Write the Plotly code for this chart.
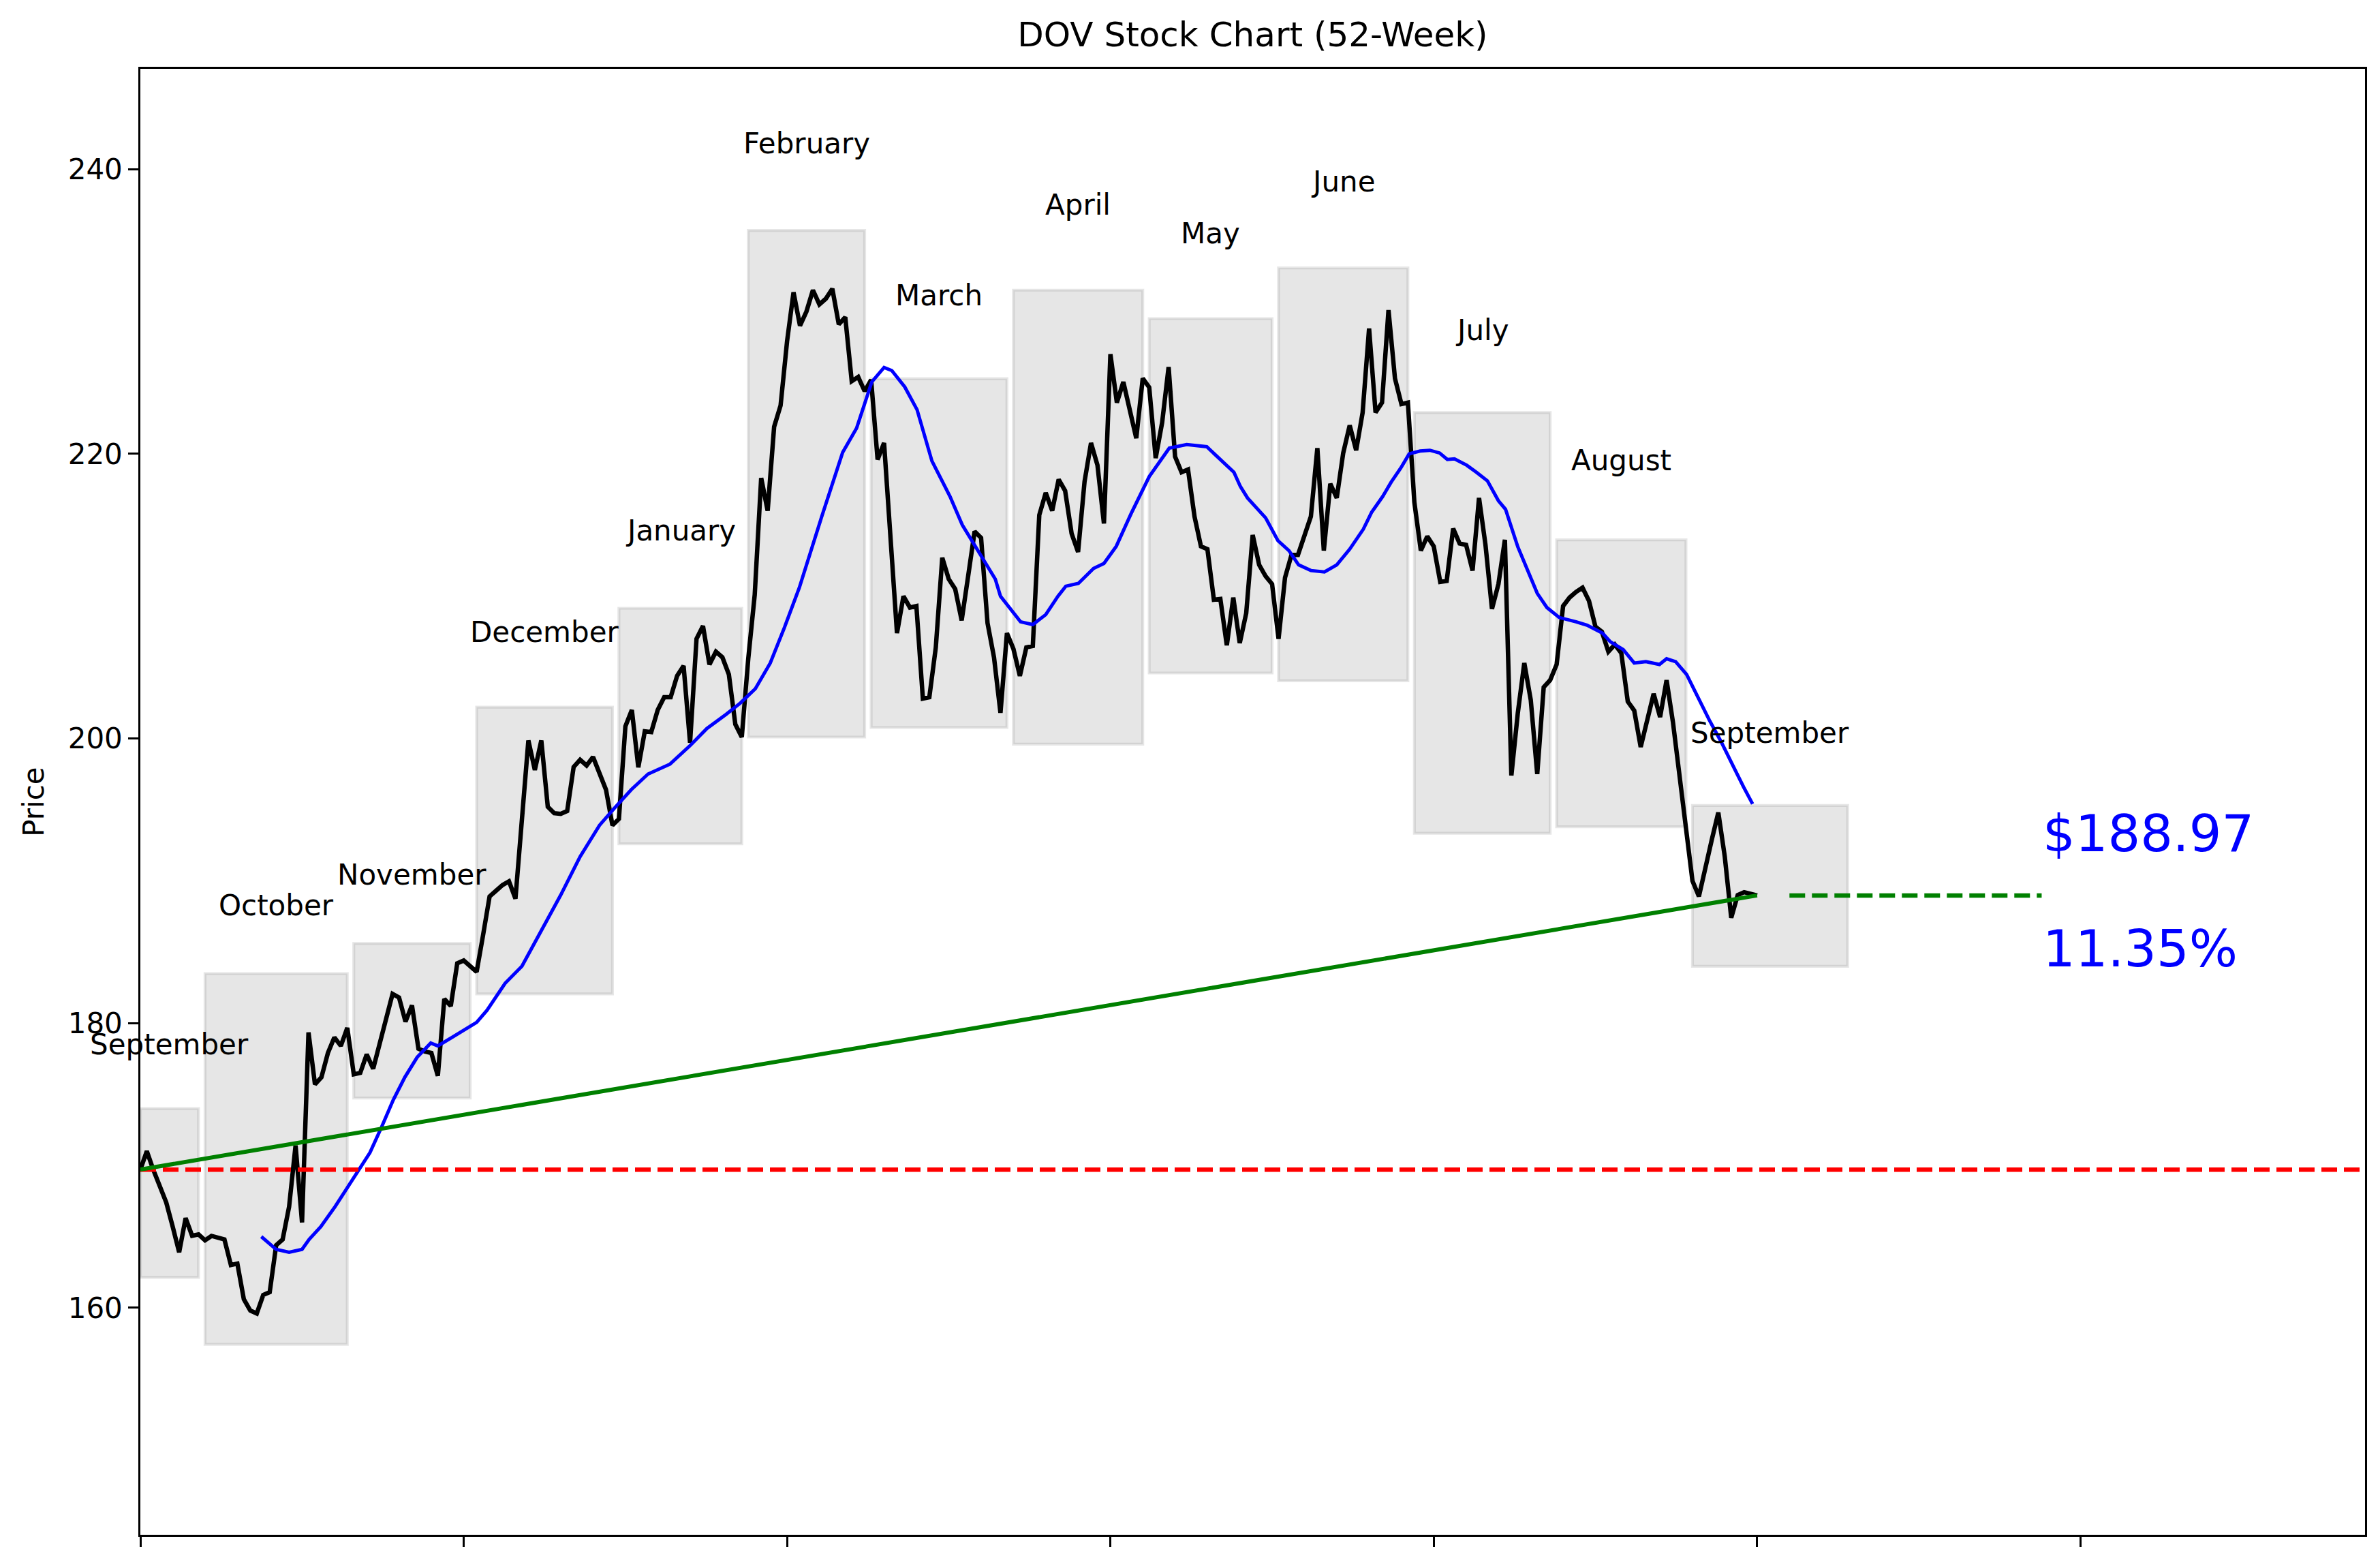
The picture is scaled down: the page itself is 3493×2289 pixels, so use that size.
import plotly.graph_objects as go

# ---- data ----
close = [
    169.71, 171.0, 169.7, 168.6, 167.4, 165.7, 163.9, 166.3, 165.06, 165.15,
    164.74, 165.05, 164.9, 164.8, 163.0, 163.1, 160.6, 159.8, 159.6, 160.9,
    161.1, 164.4, 164.8, 167.1, 171.4, 166.0, 179.35, 175.7, 176.2, 177.9,
    179.0, 178.4, 179.67, 176.4, 176.5, 177.8, 176.8, 178.6, 180.3, 182.05,
    181.8, 180.1, 181.25, 178.2, 178.0, 177.9, 176.3, 181.7, 181.2, 184.2,
    184.4, 184.0, 183.6, 186.2, 188.9, 189.3, 189.7, 189.96, 188.74, 194.3,
    199.86, 197.78, 199.86, 195.2, 194.75, 194.7, 194.9, 198.0, 198.5, 198.1,
    198.7, 197.55, 196.4, 193.9, 194.35, 200.85, 202.0, 197.97, 200.5, 200.45,
    202.0, 202.9, 202.9, 204.4, 205.1, 199.7, 207.0, 207.9, 205.2, 206.1,
    205.7, 204.5, 201.0, 200.1, 205.6, 210.1, 218.3, 216.0, 221.9, 223.4,
    227.9, 231.35, 229.0, 230.0, 231.5, 230.5, 230.9, 231.6, 229.1, 229.6,
    225.1, 225.4, 224.4, 225.2, 219.6, 220.76, 214.1, 207.4, 210.0, 209.2,
    209.3, 202.8, 202.9, 206.4, 212.7, 211.2, 210.5, 208.3, 211.4, 214.55,
    214.1, 208.1, 205.7, 201.8, 207.4, 206.3, 204.4, 206.4, 206.5, 215.7,
    217.26, 216.0, 218.2, 217.4, 214.4, 213.1, 218.05, 220.76, 219.2, 215.1,
    227.0, 223.6, 225.05, 223.1, 221.1, 225.3, 224.67, 219.7, 222.2, 226.1,
    219.8, 218.7, 218.9, 215.6, 213.5, 213.3, 209.75, 209.8, 206.55, 209.9,
    206.7, 208.8, 214.3, 212.2, 211.4, 210.85, 207.0, 211.3, 212.9, 212.9,
    214.3, 215.6, 220.4, 213.2, 217.9, 216.9, 220.06, 222.0, 220.25, 222.9,
    228.8, 222.9, 223.6, 230.1, 225.3, 223.5, 223.6, 216.6, 213.2, 214.2,
    213.5, 211.0, 211.07, 214.75, 213.7, 213.6, 211.8, 216.9, 213.6, 209.1,
    210.85, 213.96, 197.4, 201.8, 205.3, 202.7, 197.5, 203.6, 204.1, 205.2,
    209.3, 209.9, 210.3, 210.6, 209.67, 207.85, 207.5, 206.1, 206.6, 206.0,
    202.6, 201.96, 199.4, 201.3, 203.14, 201.5, 204.1, 201.1, 197.25, 193.4,
    190.0, 188.9, 191.05, 192.9, 194.8, 191.7, 187.4, 189.0, 189.2, 189.06,
    188.97,
]
day_index = list(range(len(close)))

ma_x = [18.7, 21.0, 23.0, 25.0, 26.1, 27.9, 30.1, 31.9, 33.7, 35.5, 37.3, 39.1,
        40.9, 42.8, 44.9, 46.0, 48.2, 50.0, 52.0, 53.6, 56.4, 59.0, 62.0, 65.0,
        68.0, 71.0, 73.3, 75.9, 78.5, 81.9, 85.0, 87.6, 90.6, 92.8, 95.1, 97.4,
        99.6, 101.9, 105.3, 108.6, 110.75, 113.1, 115.0, 116.2, 118.2, 120.1,
        122.4, 125.2, 127.1, 129.5, 132.2, 133.0, 136.1, 138.0, 140.0, 141.9,
        143.1, 145.05, 147.4, 149.0, 150.9, 153.2, 156.0, 159.1, 161.8, 164.9,
        167.8, 169.1, 170.1, 171.2, 174.0, 175.9, 177.6, 179.1, 181.0, 183.1,
        185.0, 187.0, 189.1, 190.4, 192.1, 193.4, 194.9, 196.2, 197.9, 199.4,
        200.9, 202.1, 203.2, 205.1, 206.6, 208.3, 210.0, 211.1, 213.0, 214.9,
        216.0, 217.5, 219.4, 222.0, 223.7, 226.1, 227.3, 229.3, 231.0, 232.8,
        234.9, 236.0, 237.4, 239.1, 240.9, 242.6, 244.4, 246.2, 247.9, 249.3]
ma_y = [165.0, 164.1, 163.9, 164.1, 164.8, 165.7, 167.1, 168.4, 169.7, 170.9,
        172.7, 174.6, 176.2, 177.6, 178.6, 178.4, 179.0, 179.5, 180.05, 180.9,
        182.8, 184.0, 186.5, 189.0, 191.7, 193.9, 195.1, 196.4, 197.5, 198.2,
        199.5, 200.7, 201.7, 202.5, 203.5, 205.3, 207.8, 210.6, 215.5, 220.1,
        221.8, 225.05, 226.07, 225.85, 224.7, 223.1, 219.5, 217.0, 215.0, 213.2,
        211.2, 210.0, 208.2, 208.0, 208.7, 210.0, 210.7, 210.9, 211.95, 212.3,
        213.5, 215.8, 218.4, 220.4, 220.65, 220.5, 219.2, 218.7, 217.7, 216.9,
        215.5, 213.9, 213.2, 212.2, 211.8, 211.7, 212.2, 213.3, 214.7, 215.9,
        217.0, 218.0, 219.0, 220.0, 220.2, 220.25, 220.06, 219.6, 219.65, 219.2,
        218.7, 218.1, 216.7, 216.1, 213.46, 211.4, 210.2, 209.2, 208.5, 208.2,
        207.96, 207.4, 206.8, 206.25, 205.3, 205.4, 205.2, 205.6, 205.4, 204.5,
        202.8, 201.3, 199.8, 198.1, 196.6, 195.4]

months = ["September", "October", "November", "December", "January", "February",
          "March", "April", "May", "June", "July", "August", "September"]
month_start = [0, 10, 33, 52, 74, 94, 113, 135, 156, 176, 197, 219, 240]
month_end = [9, 32, 51, 73, 93, 112, 134, 155, 175, 196, 218, 239, 264]
month_low = [162.13, 157.43, 174.74, 182.05, 192.6, 200.1, 200.77, 199.6,
             204.6, 204.06, 193.34, 193.8, 183.99]
month_high = [174.0, 183.48, 185.6, 202.2, 209.15, 235.7, 225.28, 231.5,
              229.5, 233.06, 222.9, 213.96, 195.29]

y_ticks = [160, 180, 200, 220, 240]
x_ticks = [0, 50, 100, 150, 200, 250, 300]

# ---- derived values ----
start_price = close[0]
last_price = close[-1]
last_i = day_index[-1]
pct = (last_price / start_price - 1) * 100

FONT = "DejaVu Sans"
W, H = 3493, 2289
X_RANGE = [0, 344.0]
Y_RANGE = [144.05, 247.05]

fig = go.Figure()

# month boxes
for m, x0, x1, lo, hi in zip(months, month_start, month_end, month_low, month_high):
    fig.add_shape(type="rect", xref="x", yref="y", x0=x0, x1=x1, y0=lo, y1=hi,
                  fillcolor="rgba(128,128,128,0.2)",
                  line=dict(color="rgba(128,128,128,0.2)", width=4.2),
                  layer="below")
    fig.add_annotation(x=(x0 + x1) / 2, y=hi * 1.026, text=m, showarrow=False,
                       xanchor="center", yanchor="middle",
                       font=dict(family=FONT, size=42, color="black"))

# price line
fig.add_trace(go.Scatter(x=day_index, y=close, mode="lines",
                         line=dict(color="black", width=6.5), hoverinfo="skip"))
# moving average
fig.add_trace(go.Scatter(x=ma_x, y=ma_y, mode="lines",
                         line=dict(color="blue", width=5), hoverinfo="skip"))
# start price reference line
fig.add_trace(go.Scatter(x=X_RANGE, y=[start_price, start_price], mode="lines",
                         line=dict(color="red", width=6.5, dash="23px,10px"),
                         hoverinfo="skip"))
# trend line start -> end
fig.add_trace(go.Scatter(x=[day_index[0], last_i], y=[start_price, last_price],
                         mode="lines", line=dict(color="green", width=6),
                         hoverinfo="skip"))
# last-price projection
fig.add_trace(go.Scatter(x=[last_i + 5, last_i + 44], y=[last_price, last_price],
                         mode="lines",
                         line=dict(color="green", width=6.5, dash="23px,10px"),
                         hoverinfo="skip"))

fig.add_annotation(x=last_i + 44.0, y=last_price + 4.37, text=f"${last_price:.2f}",
                   showarrow=False, xanchor="left", yanchor="middle",
                   font=dict(family=FONT, size=75, color="blue"))
fig.add_annotation(x=last_i + 44.0, y=last_price - 3.72, text=f"{pct:.2f}%",
                   showarrow=False, xanchor="left", yanchor="middle",
                   font=dict(family=FONT, size=75, color="blue"))

axis_common = dict(showline=True, linecolor="black", linewidth=3.3, mirror=True,
                   ticks="outside", ticklen=14.6, tickwidth=3.3, tickcolor="black",
                   showgrid=False, zeroline=False)

fig.update_layout(
    width=W, height=H,
    margin=dict(l=198, r=30, t=93, b=45, pad=0),
    paper_bgcolor="white", plot_bgcolor="white",
    showlegend=False,
    font=dict(family=FONT, size=42, color="black"),
    title=dict(text="DOV Stock Chart (52-Week)", x=0.5, xref="paper",
               y=1 - 42 / H, yref="container", xanchor="center", yanchor="middle",
               font=dict(family=FONT, size=50, color="black")),
    xaxis=dict(range=X_RANGE, tickvals=x_ticks, showticklabels=False, **axis_common),
    yaxis=dict(range=Y_RANGE, tickvals=y_ticks, tickfont=dict(family=FONT, size=42),
               title=dict(text="Price", font=dict(family=FONT, size=42), standoff=22),
               **axis_common),
)

fig.write_html("out.html")
